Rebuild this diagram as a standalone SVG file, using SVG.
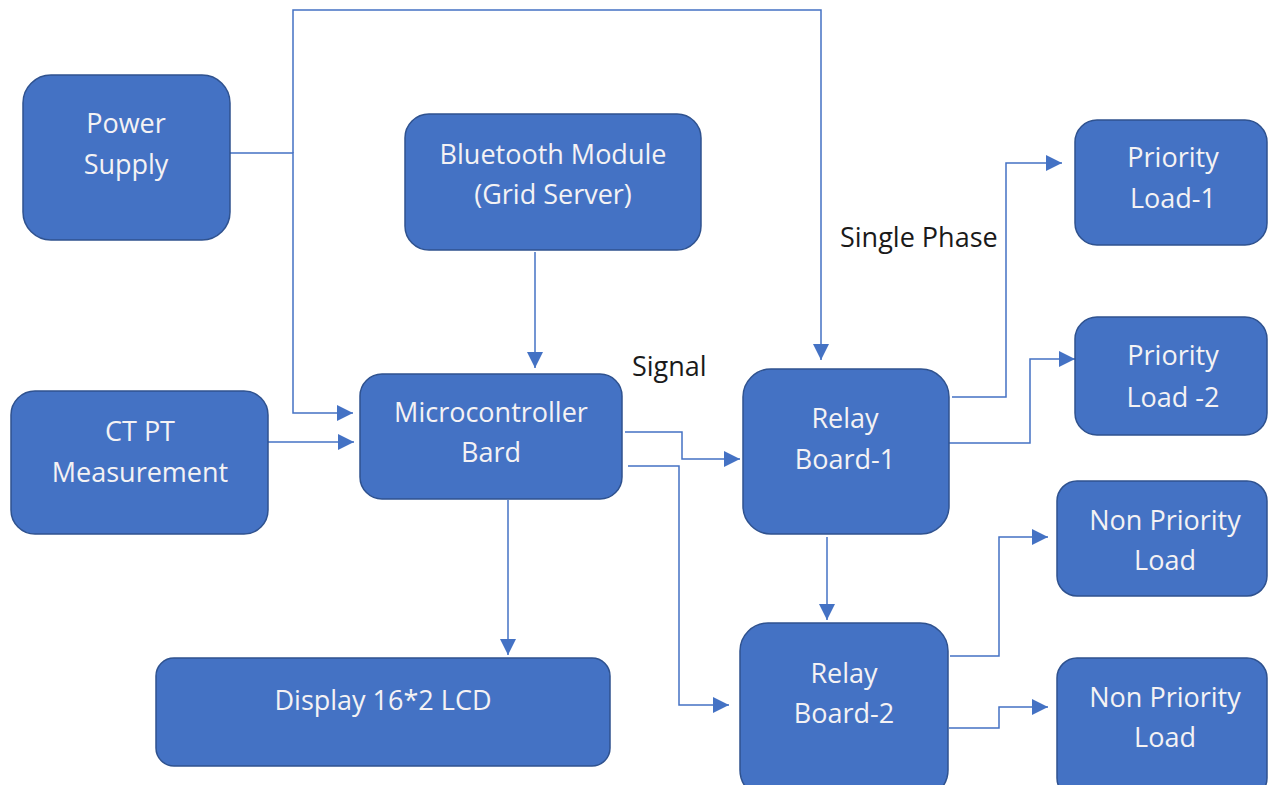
<svg xmlns="http://www.w3.org/2000/svg" width="1268" height="785" viewBox="0 0 1268 785">
<style>
.box{fill:#4472C4;stroke:#2F528F;stroke-width:1.5}
.t{font-family:"Open Sans","Liberation Sans",sans-serif;font-size:27px;fill:#F4F2F4;text-anchor:middle}
.lbl{font-family:"Open Sans","Liberation Sans",sans-serif;font-size:27px;fill:#1a1a1a}
.c{fill:none;stroke:#4472C4;stroke-width:1.5;marker-end:url(#ah)}
.n{fill:none;stroke:#4472C4;stroke-width:1.5}
</style>
<defs>
<marker id="ah" viewBox="0 0 16 16" refX="16" refY="8" markerWidth="16" markerHeight="16" markerUnits="userSpaceOnUse" orient="auto">
<path d="M0,0 L16,8 L0,16 z" fill="#4472C4"/>
</marker>
</defs>
<rect width="1268" height="785" fill="#FFFFFF"/>
<g id="connectors">
<path class="c" d="M230,153 H293 V413 H353"/>
<path class="c" d="M293,153 V10 H821 V360"/>
<path class="c" d="M268,442 H354"/>
<path class="c" d="M535,252 V368"/>
<path class="c" d="M625,432 H682 V459 H740"/>
<path class="c" d="M628,466 H679 V705 H729"/>
<path class="c" d="M508,500 V655"/>
<path class="c" d="M827,537 V620"/>
<path class="c" d="M952,397 H1006 V163 H1062"/>
<path class="c" d="M949,443 H1030 V359 H1075"/>
<path class="c" d="M950,656 H999 V537 H1048"/>
<path class="c" d="M949,728 H999 V707 H1048"/>
</g>
<g id="power-supply">
<rect class="box" x="23" y="75" width="207" height="165" rx="28"/>
<text class="t" x="126" y="133">Power</text>
<text class="t" x="126" y="174">Supply</text>
</g>
<g id="bluetooth">
<rect class="box" x="405" y="114" width="296" height="136" rx="24"/>
<text class="t" x="553" y="164">Bluetooth Module</text>
<text class="t" x="553" y="204">(Grid Server)</text>
</g>
<g id="ctpt">
<rect class="box" x="11" y="391" width="257" height="143" rx="24"/>
<text class="t" x="140" y="441">CT PT</text>
<text class="t" x="140" y="482">Measurement</text>
</g>
<g id="micro">
<rect class="box" x="360" y="374" width="262" height="125" rx="22"/>
<text class="t" x="491" y="422">Microcontroller</text>
<text class="t" x="491" y="462">Bard</text>
</g>
<g id="display">
<rect class="box" x="156" y="658" width="454" height="108" rx="18"/>
<text class="t" x="383" y="710">Display 16*2 LCD</text>
</g>
<g id="relay1">
<rect class="box" x="743" y="369" width="206" height="165" rx="28"/>
<text class="t" x="845" y="428">Relay</text>
<text class="t" x="845" y="469">Board-1</text>
</g>
<g id="relay2">
<rect class="box" x="740" y="623" width="208" height="175" rx="28"/>
<text class="t" x="844" y="683">Relay</text>
<text class="t" x="844" y="723">Board-2</text>
</g>
<g id="priority1">
<rect class="box" x="1075" y="120" width="192" height="125" rx="22"/>
<text class="t" x="1173" y="167">Priority</text>
<text class="t" x="1173" y="208">Load-1</text>
</g>
<g id="priority2">
<rect class="box" x="1075" y="317" width="192" height="118" rx="22"/>
<text class="t" x="1173" y="365">Priority</text>
<text class="t" x="1173" y="407">Load -2</text>
</g>
<g id="nonpriority1">
<rect class="box" x="1057" y="481" width="210" height="115" rx="20"/>
<text class="t" x="1165" y="530">Non Priority</text>
<text class="t" x="1165" y="570">Load</text>
</g>
<g id="nonpriority2">
<rect class="box" x="1057" y="658" width="210" height="140" rx="20"/>
<text class="t" x="1165" y="707">Non Priority</text>
<text class="t" x="1165" y="747">Load</text>
</g>
<g id="labels">
<text class="lbl" x="632" y="376">Signal</text>
<text class="lbl" x="840" y="247">Single Phase</text>
</g>
</svg>
